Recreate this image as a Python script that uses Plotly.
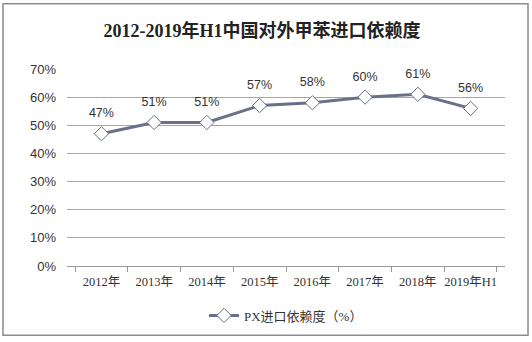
import plotly.graph_objects as go

categories = ["2012年", "2013年", "2014年", "2015年", "2016年", "2017年", "2018年", "2019年H1"]
values = [47, 51, 51, 57, 58, 60, 61, 56]
labels = [f"{v}%" for v in values]
series_name = "PX进口依赖度（%）"
title = "2012-2019年H1中国对外甲苯进口依赖度"

serif = "Liberation Serif, Noto Sans CJK SC, serif"
sans = "Liberation Sans, Arial, sans-serif"

fig = go.Figure()
fig.add_trace(go.Scatter(
    x=categories, y=values, mode="lines+markers",
    name=series_name,
    line=dict(color="#6a7089", width=3),
    marker=dict(symbol="diamond", size=11, color="white",
                line=dict(color="#6a7089", width=1)),
))
# data labels (invisible larger markers push labels higher)
fig.add_trace(go.Scatter(
    x=categories, y=values, mode="markers+text",
    text=labels, textposition="top center", showlegend=False, hoverinfo="skip",
    textfont=dict(family=sans, size=12.5, color="#333333"),
    marker=dict(size=20, opacity=0),
))

W, H = 532, 342
ml, mr, mt, mb = 67, 27, 69, 74
pw, ph = W - ml - mr, H - mt - mb

def px_x(p):
    return (p - ml) / pw

def px_y(p):
    return (H - mb - p) / ph

fig.update_layout(
    width=W, height=H,
    margin=dict(l=ml, r=mr, t=mt, b=mb),
    paper_bgcolor="white", plot_bgcolor="white",
    title=dict(text=title, x=262 / W, xanchor="center", xref="container",
               y=1 - 31 / H, yanchor="middle",
               font=dict(family=serif, size=18, color="#222222", weight="bold")),
    showlegend=True,
    legend=dict(orientation="h", x=0.5, xanchor="center", y=px_y(318), yanchor="middle",
                font=dict(family=serif, size=13, color="#333333")),
    xaxis=dict(type="category", tickson="boundaries", ticks="outside", ticklen=5,
               tickcolor="#999999", showline=True, linecolor="#999999", linewidth=1,
               showgrid=False, tickangle=0, ticklabelstandoff=4,
               tickfont=dict(family=serif, size=12.5, color="#333333")),
    yaxis=dict(range=[0, 70], dtick=10, ticksuffix="%", showgrid=True,
               gridcolor="#a6a6a6", gridwidth=1, zeroline=False, showline=False,
               tickfont=dict(family=sans, size=13, color="#333333"),
               ticklabelstandoff=10),
    shapes=[dict(type="rect", xref="paper", yref="paper",
                 x0=px_x(3), x1=px_x(528), y0=px_y(338), y1=px_y(3),
                 line=dict(color="#8c8c8c", width=1.5))],
)

fig.write_html("out.html")
